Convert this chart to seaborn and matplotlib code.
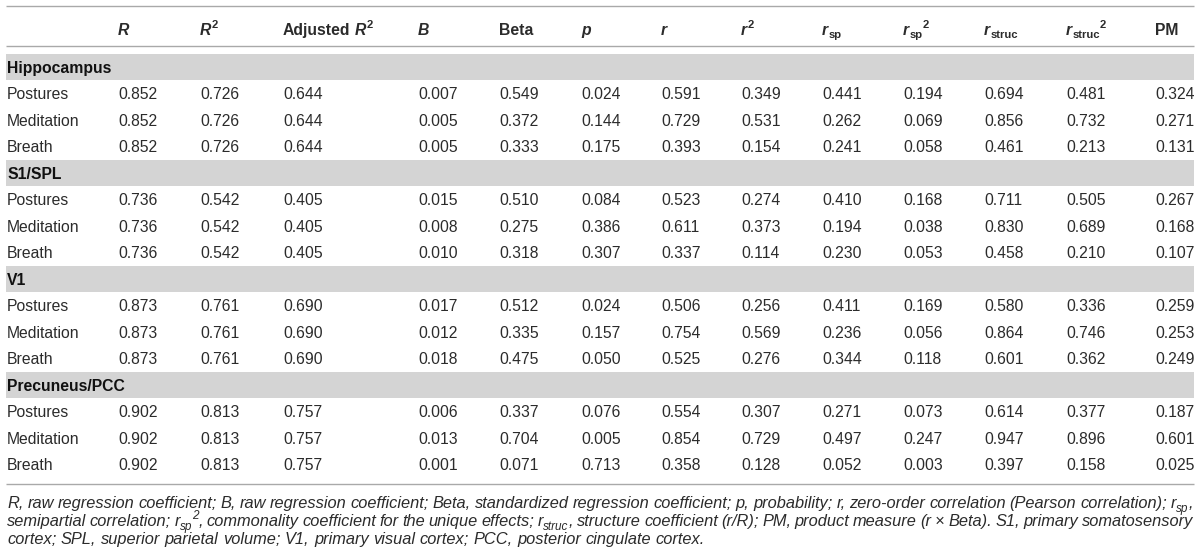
import numpy as np
import pandas as pd
import seaborn as sns
import matplotlib.pyplot as plt
from matplotlib.colors import ListedColormap

# dados da tabela
groups = ['Hippocampus', 'S1/SPL', 'V1', 'Precuneus/PCC']
predictors = ['Postures', 'Meditation', 'Breath']

R = [0.852, 0.736, 0.873, 0.902]
R2 = [0.726, 0.542, 0.761, 0.813]
adj_R2 = [0.644, 0.405, 0.690, 0.757]

B = [0.007, 0.005, 0.005, 0.015, 0.008, 0.010, 0.017, 0.012, 0.018, 0.006, 0.013, 0.001]
beta = [0.549, 0.372, 0.333, 0.510, 0.275, 0.318, 0.512, 0.335, 0.475, 0.337, 0.704, 0.071]
p = [0.024, 0.144, 0.175, 0.084, 0.386, 0.307, 0.024, 0.157, 0.050, 0.076, 0.005, 0.713]
r = [0.591, 0.729, 0.393, 0.523, 0.611, 0.337, 0.506, 0.754, 0.525, 0.554, 0.854, 0.358]
r2 = [0.349, 0.531, 0.154, 0.274, 0.373, 0.114, 0.256, 0.569, 0.276, 0.307, 0.729, 0.128]
r_sp = [0.441, 0.262, 0.241, 0.410, 0.194, 0.230, 0.411, 0.236, 0.344, 0.271, 0.497, 0.052]
r_sp2 = [0.194, 0.069, 0.058, 0.168, 0.038, 0.053, 0.169, 0.056, 0.118, 0.073, 0.247, 0.003]
r_struc = [0.694, 0.856, 0.461, 0.711, 0.830, 0.458, 0.580, 0.864, 0.601, 0.614, 0.947, 0.397]
r_struc2 = [0.481, 0.732, 0.213, 0.505, 0.689, 0.210, 0.336, 0.746, 0.362, 0.377, 0.896, 0.158]
PM = [0.324, 0.271, 0.131, 0.267, 0.168, 0.107, 0.259, 0.253, 0.249, 0.187, 0.601, 0.025]

# cabeçalhos: (texto, estilo, deslocamento)
headers = [
    [('R', 'bi', None)],
    [('R', 'bi', None), ('2', 'b', 'sup')],
    [('Adjusted', 'b', None), (' ', 'b', None), ('R', 'bi', None), ('2', 'b', 'sup')],
    [('B', 'bi', None)],
    [('Beta', 'b', None)],
    [('p', 'bi', None)],
    [('r', 'bi', None)],
    [('r', 'bi', None), ('2', 'b', 'sup')],
    [('r', 'bi', None), ('sp', 'b', 'sub')],
    [('r', 'bi', None), ('sp', 'b', 'sub'), ('2', 'b', 'sup')],
    [('r', 'bi', None), ('struc', 'b', 'sub')],
    [('r', 'bi', None), ('struc', 'b', 'sub'), ('2', 'b', 'sup')],
    [('PM', 'b', None)],
]

footnote = [
    "R, raw regression coefficient; B, raw regression coefficient; Beta, standardized regression coefficient; "
    "p, probability; r, zero-order correlation (Pearson correlation); r_{sp},",
    "semipartial correlation; r_{sp}^{2}, commonality coefficient for the unique effects; r_{struc}, "
    "structure coefficient (r/R); PM, product measure (r \u00d7 Beta). S1, primary somatosensory",
    "cortex; SPL, superior parietal volume; V1, primary visual cortex; PCC, posterior cingulate cortex.",
]

# montar a tabela
rows = []
k = 0
for gi, g in enumerate(groups):
    rows.append({'label': g, 'band': 1, 'vals': None})
    for pr in predictors:
        vals = [R[gi], R2[gi], adj_R2[gi], B[k], beta[k], p[k], r[k], r2[k],
                r_sp[k], r_sp2[k], r_struc[k], r_struc2[k], PM[k]]
        rows.append({'label': pr, 'band': 0, 'vals': vals})
        k += 1
df = pd.DataFrame(rows)

# layout
W, H = 1200, 560
col_x = [118, 200, 283, 418, 499, 581, 661, 741, 822, 903, 984, 1066, 1155]
label_x = 7
row0, step = 67, 26.5
header_y = 29
fs = 11.3
fs_note = 11.8
txt_color = '#2b2b2b'
line_color = '#a9a9a9'
band_color = '#d4d4d4'

sns.set_theme(style='white')
plt.rcParams['font.family'] = ['Liberation Sans', 'DejaVu Sans']

fig = plt.figure(figsize=(W / 100, H / 100), dpi=100)

# faixas cinzas via heatmap
n = len(df)
top_band = row0 - step / 2
ax_bg = fig.add_axes([6 / W, 1 - (top_band + n * step) / H, (W - 12) / W, n * step / H])
sns.heatmap(df[['band']].to_numpy(), ax=ax_bg, cmap=ListedColormap(['white', band_color]),
            cbar=False, xticklabels=False, yticklabels=False, vmin=0, vmax=1)
ax_bg.set_axis_off()

ax = fig.add_axes([0, 0, 1, 1])
ax.set_xlim(0, W)
ax.set_ylim(H, 0)
ax.set_axis_off()
ax.patch.set_alpha(0)

fig.canvas.draw()
renderer = fig.canvas.get_renderer()


def draw_segs(x, yc, segs, size, color=txt_color):
    px = size * 100 / 72
    base = yc + 0.36 * px
    for text, style, shift in segs:
        s = size * 0.72 if shift else size
        dy = 0
        if shift == 'sup':
            dy = -0.42 * px
        elif shift == 'sub':
            dy = 0.22 * px
        t = ax.text(x, base + dy, text, fontsize=s, color=color, va='baseline', ha='left',
                    fontweight='bold' if 'b' in style else 'normal',
                    fontstyle='italic' if 'i' in style else 'normal')
        if text == ' ':
            x += 0.278 * s * 100 / 72
        else:
            x += t.get_window_extent(renderer).width
    return x


def measure(segs, size):
    tot = 0
    for text, style, shift in segs:
        s = size * 0.72 if shift else size
        if text == ' ':
            tot += 0.278 * s * 100 / 72
            continue
        t = ax.text(0, 0, text, fontsize=s, fontweight='bold' if 'b' in style else 'normal',
                    fontstyle='italic' if 'i' in style else 'normal')
        tot += t.get_window_extent(renderer).width
        t.remove()
    return tot


# linhas
ax.hlines([5.5, 46], 6, W - 6, color=line_color, lw=1)
ax.hlines(top_band + n * step + 6, 6, W - 6, color=line_color, lw=1)

# cabeçalho
for cx, h in zip(col_x, headers):
    draw_segs(cx, header_y, h, fs)

# corpo
for i, row in df.iterrows():
    yc = row0 + i * step
    if row['band']:
        draw_segs(label_x, yc, [(row['label'], 'b', None)], fs, '#111111')
    else:
        draw_segs(label_x, yc, [(row['label'], '', None)], fs)
        for cx, v in zip(col_x, row['vals']):
            draw_segs(cx, yc, [(f'{v:.3f}', '', None)], fs)


def parse_word(w):
    segs = []
    i = 0
    buf = ''
    while i < len(w):
        if w[i] in '_^' and i + 1 < len(w) and w[i + 1] == '{':
            if buf:
                segs.append((buf, 'i', None))
                buf = ''
            j = w.index('}', i)
            segs.append((w[i + 2:j], 'i', 'sub' if w[i] == '_' else 'sup'))
            i = j + 1
        else:
            buf += w[i]
            i += 1
    if buf:
        segs.append((buf, 'i', None))
    return segs


# nota de rodapé justificada
note_y = [502, 520, 538]
left, right = 7, W - 7
for li, line in enumerate(footnote):
    words = [parse_word(w) for w in line.split(' ')]
    widths = [measure(w, fs_note) for w in words]
    if li < len(footnote) - 1:
        gap = (right - left - sum(widths)) / (len(words) - 1)
    else:
        gap = 0.278 * fs_note * 100 / 72
    x = left
    for w, wd in zip(words, widths):
        draw_segs(x, note_y[li], w, fs_note)
        x += wd + gap

fig.savefig('out.png', dpi=100)
